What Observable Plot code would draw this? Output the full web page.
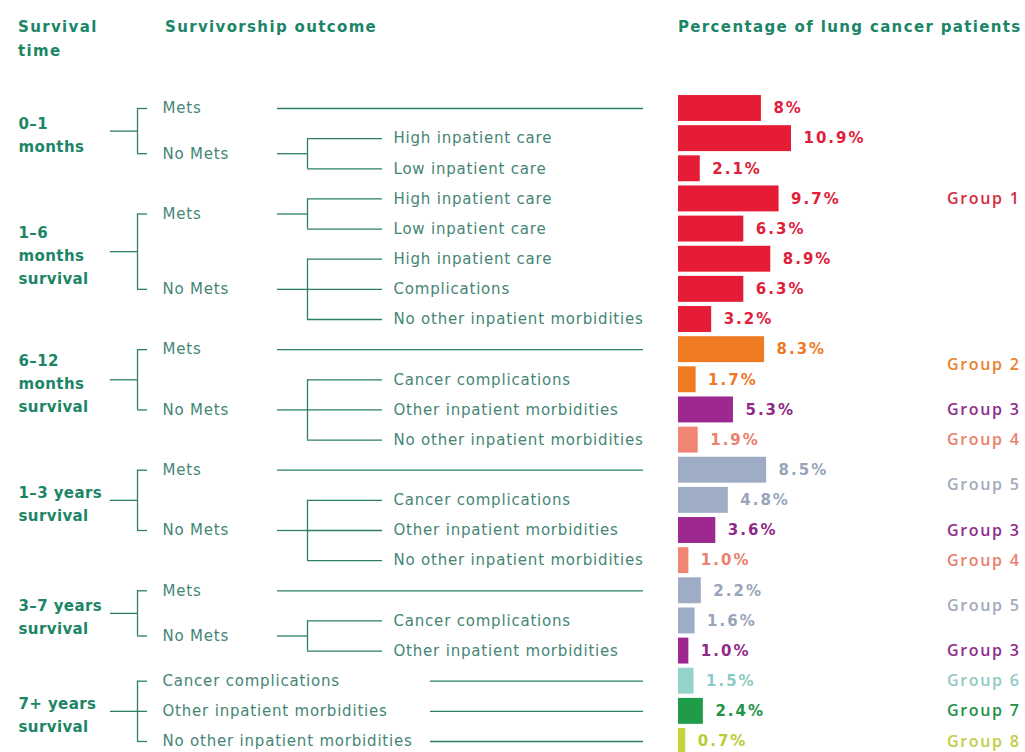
<!DOCTYPE html>
<html><head><meta charset="utf-8">
<script src="https://cdn.jsdelivr.net/npm/d3@7"></script>
<script src="https://cdn.jsdelivr.net/npm/@observablehq/plot@0.6"></script>
<style>
body{margin:0;background:#fff;width:1025px;height:752px;overflow:hidden}
#head{position:relative;height:62px;font-family:"DejaVu Sans",sans-serif;font-weight:700;color:#1c8567;font-size:15px;letter-spacing:1.35px}
#head span{position:absolute;line-height:24px;white-space:nowrap}
</style></head><body>
<div id="head">
  <span style="left:18px;top:15px">Survival<br>time</span>
  <span style="left:165px;top:15px">Survivorship outcome</span>
  <span style="left:678px;top:15px">Percentage of lung cancer patients</span>
</div>
<div id="chart"></div>
<script>
// ---- data ----
const timeLabels = ["0–1\nmonths", "1–6\nmonths\nsurvival", "6–12\nmonths\nsurvival", "1–3 years\nsurvival", "3–7 years\nsurvival", "7+ years\nsurvival"];
const rowTime = [0,0,0, 1,1,1,1,1, 2,2,2,2, 3,3,3,3, 4,4,4, 5,5,5];
const rowOutcome = ["Mets","No Mets","No Mets",
  "Mets","Mets","No Mets","No Mets","No Mets",
  "Mets","No Mets","No Mets","No Mets",
  "Mets","No Mets","No Mets","No Mets",
  "Mets","No Mets","No Mets",
  "Cancer complications","Other inpatient morbidities","No other inpatient morbidities"];
const rowDetail = [null,"High inpatient care","Low inpatient care",
  "High inpatient care","Low inpatient care","High inpatient care","Complications","No other inpatient morbidities",
  null,"Cancer complications","Other inpatient morbidities","No other inpatient morbidities",
  null,"Cancer complications","Other inpatient morbidities","No other inpatient morbidities",
  null,"Cancer complications","Other inpatient morbidities",
  null,null,null];
const values = [8,10.9,2.1, 9.7,6.3,8.9,6.3,3.2, 8.3,1.7,5.3,1.9, 8.5,4.8,3.6,1.0, 2.2,1.6,1.0, 1.5,2.4,0.7];
const valueLabels = ["8%","10.9%","2.1%","9.7%","6.3%","8.9%","6.3%","3.2%","8.3%","1.7%","5.3%","1.9%","8.5%","4.8%","3.6%","1.0%","2.2%","1.6%","1.0%","1.5%","2.4%","0.7%"];
const rowGroup = [1,1,1, 1,1,1,1,1, 2,2,3,4, 5,5,3,4, 5,5,3, 6,7,8];
const groupNames = ["Group 1","Group 2","Group 3","Group 4","Group 5","Group 6","Group 7","Group 8"];
const tagGroup = [1,2,3,4,5,3,4,5,3,6,7,8];
const tagRow = [3,8.5,10,11,12.5,14,15,16.5,18,19,20,21];

// ---- styles ----
const barColor = {1:"#e61c36",2:"#ef7b22",3:"#9d2890",4:"#f08574",5:"#9eadc5",6:"#95d2ca",7:"#1f9c4a",8:"#c5d43c"};
const txtColor = {1:"#e0203a",2:"#ec7a28",3:"#8f2a88",4:"#ec8070",5:"#98a4ba",6:"#8ccbc3",7:"#1e9448",8:"#bccb3a"};
const tagColor = {1:"#d42a40",2:"#e8822e",3:"#8e2e8a",4:"#ea7f6e",5:"#a2aabb",6:"#8fcbc4",7:"#21904a",8:"#bfcd45"};
const lineColor = "#2b7e68", labColor = "#458576", headColor = "#1c8567";
const HEAD = 62;
const LX = {stub:110, v1:137, tick1:147, lab1:162, stub2:277, v2:307, end2:382, lab3:393, leafEnd:643, leaf7:430, time:18, tagEnd:1020};

// ---- structure ----
const rows = values.map((v, i) => ({i, v, time: rowTime[i], outcome: rowOutcome[i], detail: rowDetail[i], group: rowGroup[i], label: valueLabels[i]}));
const nodes = [];
rows.forEach(r => {
  const last = nodes[nodes.length - 1];
  if (last && last.time === r.time && last.outcome === r.outcome && r.detail) last.rows.push(r.i);
  else nodes.push({time: r.time, outcome: r.outcome, rows: [r.i], branch: !!r.detail});
});
nodes.forEach(n => n.y = d3.mean(n.rows));
const times = timeLabels.map((t, k) => {
  const ch = nodes.filter(n => n.time === k);
  return {k, label: t, y: d3.mean(ch, n => n.y), children: ch, flat: ch.every(n => !n.branch)};
});

const xScale = {domain: [0, d3.max(values)], range: [678, 678 + 113]};
const px = p => xScale.domain[0] + (p - xScale.range[0]) * (xScale.domain[1] - xScale.domain[0]) / (xScale.range[1] - xScale.range[0]);

const hsegs = [], vsegs = [];
times.forEach(t => {
  hsegs.push({y: t.y, x1: px(LX.stub), x2: px(LX.v1)});
  vsegs.push({x: px(LX.v1), y1: d3.min(t.children, n => n.y), y2: d3.max(t.children, n => n.y)});
  t.children.forEach(n => {
    hsegs.push({y: n.y, x1: px(LX.v1), x2: px(LX.tick1)});
    if (n.branch) {
      hsegs.push({y: n.y, x1: px(LX.stub2), x2: px(LX.v2)});
      vsegs.push({x: px(LX.v2), y1: d3.min(n.rows), y2: d3.max(n.rows)});
      n.rows.forEach(r => hsegs.push({y: r, x1: px(LX.v2), x2: px(LX.end2)}));
    } else {
      hsegs.push({y: n.y, x1: px(t.flat ? LX.leaf7 : LX.stub2), x2: px(LX.leafEnd)});
    }
  });
});
const tags = tagRow.map((r, k) => ({y: r, group: tagGroup[k], name: groupNames[tagGroup[k] - 1]}));

const SANS = "'DejaVu Sans', sans-serif";
const TAG = "'Open Sans', sans-serif";

const chart = Plot.plot({
  width: 1025, height: 752 - HEAD,
  marginTop: 0, marginRight: 0, marginBottom: 0, marginLeft: 0,
  x: {type: "linear", domain: xScale.domain, range: xScale.range, axis: null},
  y: {type: "linear", domain: [0, 21], range: [108 - HEAD, 741 - HEAD], axis: null},
  style: {background: "transparent", overflow: "visible"},
  marks: [
    Plot.ruleY(hsegs, {y: "y", x1: "x1", x2: "x2", stroke: lineColor, strokeWidth: 1.3}),
    Plot.ruleX(vsegs, {x: "x", y1: "y1", y2: "y2", stroke: lineColor, strokeWidth: 1.3}),
    Plot.rect(rows, {x1: 0, x2: "v", y1: d => d.i - 0.43, y2: d => d.i + 0.43, fill: d => barColor[d.group]}),
    Plot.text(rows, {x: "v", y: "i", text: "label", dx: 12, textAnchor: "start", fill: d => txtColor[d.group], fontFamily: SANS, fontWeight: 800, fontSize: 15}),
    Plot.text(tags, {x: px(LX.tagEnd), y: "y", text: "name", textAnchor: "end", fill: d => tagColor[d.group], fontFamily: TAG, fontWeight: 600, fontSize: 16}),
    Plot.text(nodes, {x: px(LX.lab1), y: "y", text: "outcome", textAnchor: "start", fill: labColor, fontFamily: SANS, fontSize: 15}),
    Plot.text(rows.filter(r => r.detail), {x: px(LX.lab3), y: "i", text: "detail", textAnchor: "start", fill: labColor, fontFamily: SANS, fontSize: 15}),
    Plot.text(times, {x: px(LX.time), y: "y", text: "label", textAnchor: "start", lineHeight: 1.55, dy: 2, fill: headColor, fontFamily: SANS, fontWeight: 700, fontSize: 15})
  ]
});
// letter spacing per text layer (values, tags, outcomes, details, times)
const spacing = [2, 1.7, 0.8, 0.8, 0.4];
chart.querySelectorAll('g[aria-label="text"]').forEach((g, k) => g.setAttribute("letter-spacing", spacing[k] ?? 0));
document.getElementById("chart").appendChild(chart);
</script>
</body></html>
